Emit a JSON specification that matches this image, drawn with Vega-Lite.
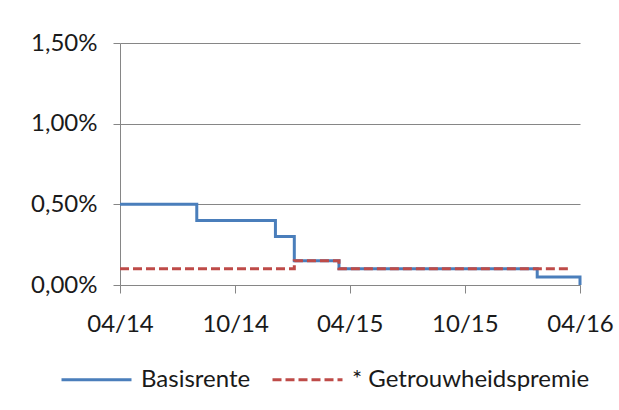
{
  "$schema": "https://vega.github.io/schema/vega-lite/v6.json",
  "width": 460,
  "height": 242,
  "autosize": {"type": "none"},
  "padding": {"left": 120, "top": 43, "right": 39, "bottom": 125},
  "background": "white",
  "data": {
    "values": [
      {"series": "Basisrente", "date": "2014-04-01", "value": 0.5},
      {"series": "Basisrente", "date": "2014-08-01", "value": 0.4},
      {"series": "Basisrente", "date": "2014-12-04", "value": 0.3},
      {"series": "Basisrente", "date": "2015-01-03", "value": 0.15},
      {"series": "Basisrente", "date": "2015-03-15", "value": 0.1},
      {"series": "Basisrente", "date": "2016-01-24", "value": 0.05},
      {"series": "Basisrente", "date": "2016-04-01", "value": 0},
      {"series": "* Getrouwheidspremie", "date": "2014-04-01", "value": 0.1},
      {"series": "* Getrouwheidspremie", "date": "2015-01-03", "value": 0.15},
      {"series": "* Getrouwheidspremie", "date": "2015-03-15", "value": 0.1},
      {"series": "* Getrouwheidspremie", "date": "2016-03-18", "value": 0.1}
    ]
  },
  "mark": {"type": "line", "interpolate": "step-after", "strokeWidth": 3},
  "encoding": {
    "x": {
      "field": "date",
      "type": "temporal",
      "scale": {"type": "utc", "domain": [{"year": 2014, "month": 4, "date": 1, "utc": true}, {"year": 2016, "month": 4, "date": 1, "utc": true}]},
      "axis": {
        "title": null,
        "values": [
          {"year": 2014, "month": 4, "date": 1, "utc": true},
          {"year": 2014, "month": 10, "date": 1, "utc": true},
          {"year": 2015, "month": 4, "date": 1, "utc": true},
          {"year": 2015, "month": 10, "date": 1, "utc": true},
          {"year": 2016, "month": 4, "date": 1, "utc": true}
        ],
        "labelExpr": "utcFormat(datum.value, '%m/%y')",
        "grid": false,
        "tickSize": 8,
        "labelPadding": 19,
        "labelFlush": false,
        "labelOverlap": false
      }
    },
    "y": {
      "field": "value",
      "type": "quantitative",
      "scale": {"domain": [0, 1.5]},
      "axis": {
        "title": null,
        "values": [0, 0.5, 1, 1.5],
        "labelExpr": "replace(format(datum.value, '.2f'), '.', ',') + '%'",
        "tickSize": 7,
        "labelPadding": 16
      }
    },
    "color": {
      "field": "series",
      "type": "nominal",
      "sort": ["Basisrente", "* Getrouwheidspremie"],
      "scale": {"domain": ["Basisrente", "* Getrouwheidspremie"], "range": ["#4a7ebb", "#be4b48"]},
      "legend": {"title": null}
    },
    "strokeDash": {
      "field": "series",
      "type": "nominal",
      "sort": ["Basisrente", "* Getrouwheidspremie"],
      "scale": {"domain": ["Basisrente", "* Getrouwheidspremie"], "range": [[1, 0], [9, 4]]},
      "legend": {"title": null}
    }
  },
  "config": {
    "view": {"stroke": null},
    "font": "Lato",
    "axis": {
      "labelFont": "Lato",
      "labelFontSize": 24,
      "labelColor": "#1a1a1a",
      "domainColor": "#868686",
      "tickColor": "#868686",
      "gridColor": "#868686",
      "gridWidth": 1,
      "domainWidth": 1,
      "tickWidth": 1
    },
    "legend": {
      "orient": "none",
      "legendX": -60,
      "legendY": 300,
      "direction": "horizontal",
      "labelFont": "Lato",
      "labelFontSize": 24,
      "labelColor": "#1a1a1a",
      "symbolType": "stroke",
      "symbolSize": 4900,
      "symbolStrokeWidth": 3,
      "labelOffset": 8,
      "columnPadding": 15,
      "labelLimit": 400
    }
  }
}
